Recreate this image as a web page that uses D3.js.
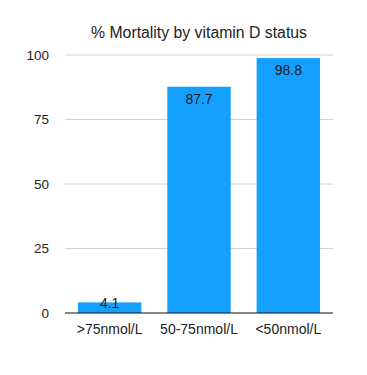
<!DOCTYPE html>
<html><head><meta charset="utf-8">
<script src="https://cdn.jsdelivr.net/npm/d3@7"></script>
<style>body{margin:0;background:#fff}svg{display:block}</style>
</head><body>
<script>
const categories = [">75nmol/L", "50-75nmol/L", "<50nmol/L"];
const values = [4.1, 87.7, 98.8];
const yTicks = [0, 25, 50, 75, 100];
const title = "% Mortality by vitamin D status";

const W = 367, H = 375;
const m = {left: 65, right: 34, top: 55, bottom: 62};
const svg = d3.select("body").append("svg").attr("width", W).attr("height", H);
const font = "'Liberation Sans', Arial, Helvetica, sans-serif";

const x = d3.scaleBand().domain(categories).range([m.left, W - m.right]).paddingInner(0.29).paddingOuter(0.145);
const y = d3.scaleLinear().domain([0, 100]).range([H - m.bottom, m.top]);

// gridlines
svg.append("g").selectAll("line").data(yTicks.filter(d => d > 0)).join("line")
  .attr("x1", m.left).attr("x2", W - m.right)
  .attr("y1", d => y(d)).attr("y2", d => y(d))
  .attr("stroke", "#d0d0d0").attr("stroke-width", 1);

// y axis labels
const yAxis = d3.axisLeft(y).tickValues(yTicks).tickSize(0).tickPadding(16);
const ga = svg.append("g").attr("transform", `translate(${m.left},0)`).call(yAxis);
ga.select(".domain").remove();
ga.selectAll("text").attr("font-family", font).attr("font-size", 13.5).attr("fill", "#222");

// bars
svg.append("g").selectAll("rect").data(values).join("rect")
  .attr("x", (d, i) => x(categories[i]))
  .attr("width", x.bandwidth())
  .attr("y", d => y(d))
  .attr("height", d => y(0) - y(d))
  .attr("fill", "#14a0ff");

// baseline
svg.append("line").attr("x1", m.left).attr("x2", W - m.right)
  .attr("y1", y(0)).attr("y2", y(0)).attr("stroke", "#111").attr("stroke-width", 1.2);

// x axis labels
const xAxis = d3.axisBottom(x).tickSize(0).tickPadding(11);
const gx = svg.append("g").attr("transform", `translate(0,${y(0)})`).call(xAxis);
gx.select(".domain").remove();
gx.selectAll("text").attr("font-family", font).attr("font-size", 14).attr("fill", "#222");

// value labels
svg.append("g").selectAll("text").data(values).join("text")
  .attr("x", (d, i) => x(categories[i]) + x.bandwidth() / 2)
  .attr("y", d => Math.min(y(d) + 12, y(0) - 10))
  .attr("dy", "0.35em")
  .attr("text-anchor", "middle")
  .attr("font-family", font).attr("font-size", 14).attr("fill", "#1a1a1a")
  .text(d => d.toFixed(1));

// title
svg.append("text").attr("x", 199).attr("y", 32).attr("dy", "0.35em")
  .attr("text-anchor", "middle").attr("font-family", font).attr("font-size", 15.8).attr("fill", "#222")
  .text(title);
</script>
</body></html>
